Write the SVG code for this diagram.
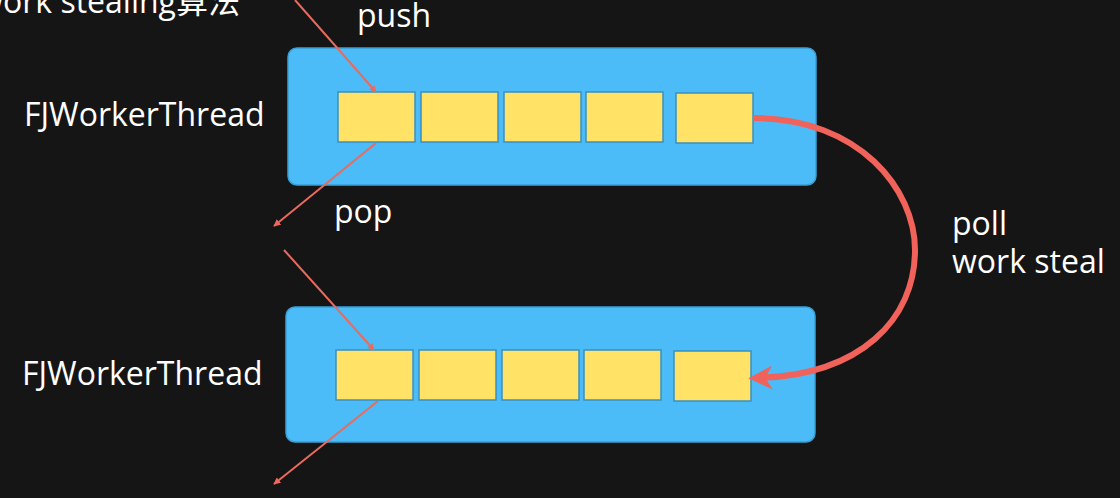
<svg xmlns="http://www.w3.org/2000/svg" width="1120" height="498" viewBox="0 0 1120 498">
<style>
.t{font-family:"Open Sans","Noto Sans CJK SC",sans-serif;font-size:32px;fill:#ffffff}
.box{fill:#4bbcf8;stroke:#3a9fd6;stroke-width:1.5}
.cell{fill:#ffe266;stroke:#3a8fc0;stroke-width:1.5}
.thin{fill:none;stroke:#ea6a5e;stroke-width:2}
.thick{fill:none;stroke:#f0625a;stroke-width:6}
</style>
<defs>
<marker id="ah" viewBox="0 0 10 10" refX="9" refY="5" markerWidth="7" markerHeight="7" orient="auto" markerUnits="userSpaceOnUse"><path d="M0,0 L10,5 L0,10 z" fill="#ea6a5e"/></marker>
<marker id="ahb" viewBox="0 0 10 10" refX="6" refY="5" markerWidth="4" markerHeight="4" orient="auto"><path d="M0,0 L10,5 L0,10 L3,5 z" fill="#f0625a"/></marker>
</defs>
<rect width="1120" height="498" fill="#151515"/>
<text class="t" x="240" y="13" text-anchor="end">work stealing算法</text>
<text class="t" x="357" y="27">push</text>
<text class="t" x="334" y="223">pop</text>
<text class="t" x="952" y="235">poll</text>
<text class="t" x="952" y="273">work steal</text>
<g id="thread1">
<rect class="box" x="288" y="48" width="528" height="137" rx="9"/>
<text class="t" x="24" y="126">FJWorkerThread</text>
<rect class="cell" x="338" y="92" width="77" height="50"/>
<rect class="cell" x="421" y="92" width="77" height="50"/>
<rect class="cell" x="504" y="92" width="77" height="50"/>
<rect class="cell" x="586" y="92" width="77" height="50"/>
<rect class="cell" x="676" y="93" width="77" height="50"/>
</g>
<g id="thread2">
<rect class="box" x="286" y="307" width="529" height="135" rx="9"/>
<text class="t" x="22" y="385">FJWorkerThread</text>
<rect class="cell" x="336" y="350" width="77" height="50"/>
<rect class="cell" x="419" y="350" width="77" height="50"/>
<rect class="cell" x="502" y="350" width="77" height="50"/>
<rect class="cell" x="584" y="350" width="77" height="50"/>
<rect class="cell" x="674" y="351" width="77" height="50"/>
</g>
<g id="connectors">
<line class="thin" x1="295" y1="0" x2="376" y2="92" marker-end="url(#ah)"/>
<line class="thin" x1="376" y1="143" x2="274" y2="226" marker-end="url(#ah)"/>
<line class="thin" x1="284" y1="250" x2="374" y2="350" marker-end="url(#ah)"/>
<line class="thin" x1="378" y1="401" x2="274" y2="484" marker-end="url(#ah)"/>
<path class="thick" d="M753,118 C860,118 915,190 915,250 C915,320 860,375 758,378" marker-end="url(#ahb)"/>
</g>
</svg>
